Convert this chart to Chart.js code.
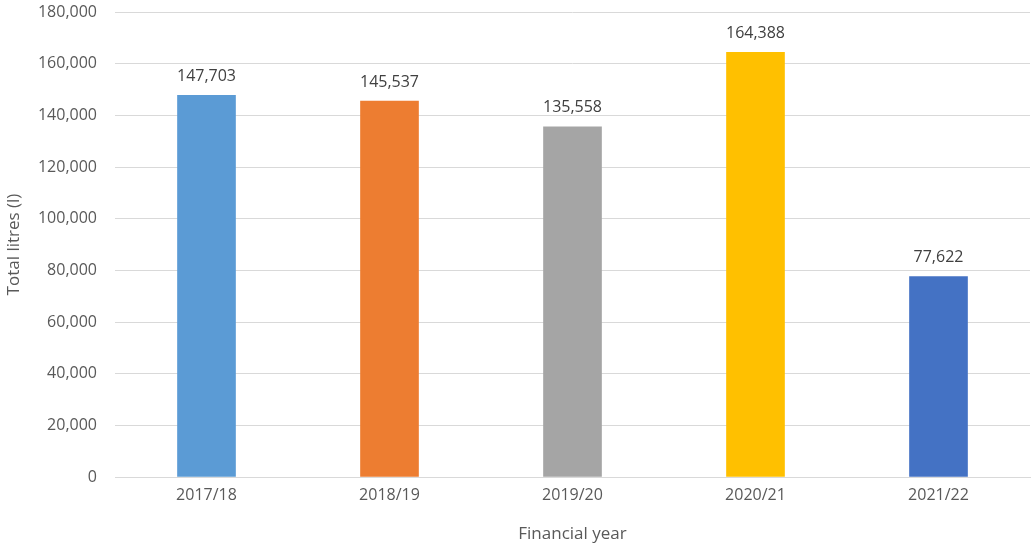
<!DOCTYPE html>
<html>
<head>
<meta charset="utf-8">
<script src="https://cdn.jsdelivr.net/npm/chart.js@4/dist/chart.umd.min.js"></script>
<style>
  html, body { margin: 0; padding: 0; background: #fff; }
  #wrap { width: 1034px; height: 544px; position: relative; }
</style>
</head>
<body>
<div id="wrap"><canvas id="chart"></canvas></div>
<script>
// Data
const years = ['2017/18', '2018/19', '2019/20', '2020/21', '2021/22'];
const litres = [147703, 145537, 135558, 164388, 77622];
const barColors = ['#5B9BD5', '#ED7D31', '#A5A5A5', '#FFC000', '#4472C4'];

const FONT = '"Open Sans", "Liberation Sans", sans-serif';
const TXT = '#595959';
const fmt = v => v.toLocaleString('en-US');

// Labels above each bar
const valueLabels = {
  id: 'valueLabels',
  afterDatasetsDraw(chart) {
    const ctx = chart.ctx;
    const meta = chart.getDatasetMeta(0);
    ctx.save();
    ctx.font = '16px ' + FONT;
    ctx.fillStyle = '#404040';
    ctx.textAlign = 'center';
    ctx.textBaseline = 'bottom';
    meta.data.forEach((bar, i) => {
      ctx.fillText(fmt(litres[i]), bar.x, bar.y - 11);
    });
    ctx.restore();
  }
};

new Chart(document.getElementById('chart'), {
  type: 'bar',
  data: {
    labels: years,
    datasets: [{
      data: litres,
      backgroundColor: barColors,
      borderWidth: 0,
      barThickness: 58
    }]
  },
  options: {
    responsive: true,
    maintainAspectRatio: false,
    animation: false,
    layout: { padding: { top: 12, right: 4, left: 4, bottom: 0 } },
    plugins: {
      legend: { display: false },
      tooltip: { enabled: false }
    },
    scales: {
      x: {
        grid: { display: false, drawTicks: false },
        border: { display: true, color: '#d9d9d9', width: 1 },
        ticks: { color: TXT, font: { family: FONT, size: 16 }, padding: 9 },
        title: {
          display: true,
          text: 'Financial year',
          color: TXT,
          font: { family: FONT, size: 17 },
          padding: { top: 6, bottom: 0 }
        },
        afterFit: s => { s.height = 67; }
      },
      y: {
        min: 0,
        max: 180000,
        ticks: {
          stepSize: 20000,
          color: TXT,
          font: { family: FONT, size: 16 },
          padding: 18,
          callback: v => fmt(v)
        },
        grid: { color: '#d9d9d9', lineWidth: 1, drawTicks: false },
        border: { display: false },
        title: {
          display: true,
          text: 'Total litres (l)',
          color: TXT,
          font: { family: FONT, size: 17 },
          padding: { top: 0, bottom: 0 }
        },
        afterFit: s => { s.width = 111; s.paddingTop = 0; s.paddingBottom = 0; }
      }
    }
  },
  plugins: [valueLabels]
});
</script>
</body>
</html>
